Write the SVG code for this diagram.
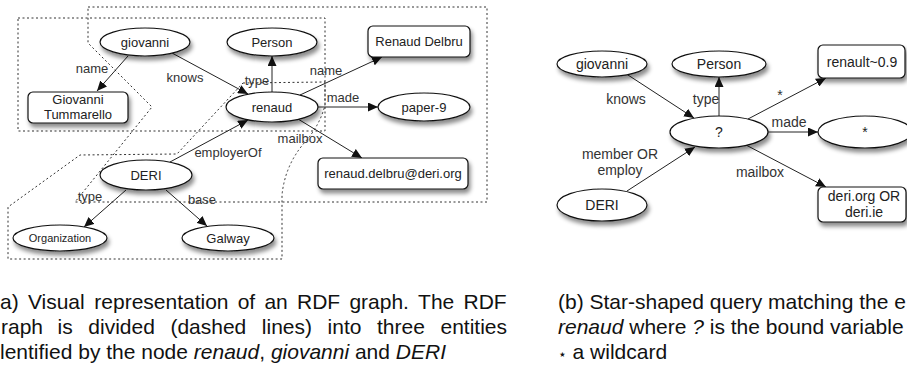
<svg xmlns="http://www.w3.org/2000/svg" width="907" height="369" viewBox="0 0 907 369">
<defs>
<style>
text{font-family:"Liberation Sans","DejaVu Sans",Arial,sans-serif;fill:#222}
.node{fill:#fff;stroke:#111;stroke-width:1.2;filter:url(#sh)}
.nl{font-size:13px;text-anchor:middle}
.nr{font-size:14px;text-anchor:middle}
.el{font-size:13px;text-anchor:middle;fill:#333}
.er{font-size:14px;text-anchor:middle;fill:#333}
.edge{stroke:#222;stroke-width:1;fill:none;marker-end:url(#ah)}
.reg{fill:none;stroke:#333;stroke-width:1;stroke-dasharray:2 2.5}
.cap{font-size:21px;fill:#111}
.it{font-style:italic}
</style>
<filter id="sh" x="-20%" y="-30%" width="150%" height="180%">
<feDropShadow dx="2" dy="4" stdDeviation="2.2" flood-color="#000" flood-opacity="0.45"/>
</filter>
<marker id="ah" markerUnits="userSpaceOnUse" markerWidth="11" markerHeight="9" refX="10" refY="4.5" orient="auto">
<path d="M0,0 L10,4.5 L0,9 Z" fill="#111"/>
</marker>
</defs>

<g id="regions">
<rect class="reg" x="18" y="18" width="307" height="113"/>
<path class="reg" d="M88,7 L487,7 L487,202 L75,202 L152,107 L88,43 Z"/>
<path class="reg" d="M243,83 L325,82 L325,105 Q320,125 305,142 Q285,165 282,195 L282,259 L8,259 L8,207 L80,155 L177,154 Z"/>
</g>

<g id="connectors">
<line class="edge" x1="128" y1="56" x2="97" y2="91"/>
<line class="edge" x1="172" y1="53" x2="248" y2="94"/>
<line class="edge" x1="272" y1="92" x2="272" y2="56"/>
<line class="edge" x1="300" y1="95" x2="382" y2="57"/>
<line class="edge" x1="318" y1="107" x2="378" y2="107"/>
<line class="edge" x1="298" y1="119" x2="362" y2="158"/>
<line class="edge" x1="170" y1="162" x2="248" y2="120"/>
<line class="edge" x1="126" y1="190" x2="84" y2="227"/>
<line class="edge" x1="166" y1="190" x2="207" y2="226"/>

<line class="edge" x1="628" y1="75" x2="694" y2="118"/>
<line class="edge" x1="719" y1="116" x2="719" y2="77"/>
<line class="edge" x1="748" y1="119" x2="826" y2="78"/>
<line class="edge" x1="768" y1="132" x2="818" y2="132"/>
<line class="edge" x1="746" y1="145" x2="826" y2="187"/>
<line class="edge" x1="627" y1="191" x2="695" y2="147"/>
</g>

<g id="edge-labels">
<text class="el" x="92" y="73">name</text>
<text class="el" x="185" y="82">knows</text>
<text class="el" x="257" y="85">type</text>
<text class="el" x="326" y="75">name</text>
<text class="el" x="343" y="102">made</text>
<text class="el" x="300" y="143">mailbox</text>
<text class="el" x="228" y="157">employerOf</text>
<text class="el" x="90" y="201">type</text>
<text class="el" x="202" y="204">base</text>

<text class="er" x="626" y="104">knows</text>
<text class="er" x="706" y="104">type</text>
<text class="er" x="780" y="100">*</text>
<text class="er" x="789" y="127">made</text>
<text class="er" x="760" y="177">mailbox</text>
<text class="er" x="620" y="159">member OR</text>
<text class="er" x="620" y="175">employ</text>
</g>

<g id="a-giovanni"><ellipse class="node" cx="145" cy="42" rx="45" ry="14"/><text class="nl" x="145" y="47">giovanni</text></g>
<g id="a-person"><ellipse class="node" cx="272" cy="42" rx="45" ry="14"/><text class="nl" x="272" y="47">Person</text></g>
<g id="a-renaud-delbru"><rect class="node" x="368" y="26" width="102" height="31" rx="5"/><text class="nl" x="419" y="46">Renaud Delbru</text></g>
<g id="a-renaud"><ellipse class="node" cx="272" cy="107" rx="46" ry="15"/><text class="nl" x="272" y="112">renaud</text></g>
<g id="a-paper9"><ellipse class="node" cx="424" cy="107" rx="46" ry="14"/><text class="nl" x="424" y="112">paper-9</text></g>
<g id="a-tummarello"><rect class="node" x="28" y="92" width="100" height="31" rx="5"/><text class="nl" x="78" y="104">Giovanni</text><text class="nl" x="78" y="119">Tummarello</text></g>
<g id="a-email"><rect class="node" x="318" y="158" width="150" height="31" rx="5"/><text class="nl" x="393" y="178">renaud.delbru@deri.org</text></g>
<g id="a-deri"><ellipse class="node" cx="146" cy="175" rx="46" ry="15"/><text class="nl" x="146" y="180">DERI</text></g>
<g id="a-organization"><ellipse class="node" cx="60" cy="238" rx="47" ry="13"/><text class="nl" style="font-size:11px" x="60" y="242">Organization</text></g>
<g id="a-galway"><ellipse class="node" cx="228" cy="238" rx="46" ry="13"/><text class="nl" x="228" y="243">Galway</text></g>

<g id="b-giovanni"><ellipse class="node" cx="602" cy="64" rx="45" ry="13"/><text class="nr" x="602" y="69">giovanni</text></g>
<g id="b-person"><ellipse class="node" cx="719" cy="64" rx="47" ry="13"/><text class="nr" x="719" y="69">Person</text></g>
<g id="b-renault"><rect class="node" x="818" y="45" width="87" height="33" rx="5"/><text class="nr" x="862" y="67">renault~0.9</text></g>
<g id="b-var"><ellipse class="node" cx="719" cy="132" rx="49" ry="16"/><text class="nr" x="719" y="137">?</text></g>
<g id="b-star"><ellipse class="node" cx="865" cy="132" rx="47" ry="16"/><text class="nr" x="865" y="137">*</text></g>
<g id="b-deriorg"><rect class="node" x="818" y="187" width="88" height="35" rx="5"/><text class="nr" x="864" y="201">deri.org OR</text><text class="nr" x="864" y="217">deri.ie</text></g>
<g id="b-deri"><ellipse class="node" cx="602" cy="205" rx="45" ry="16"/><text class="nr" x="602" y="210">DERI</text></g>

<g id="captions">
<text class="cap" y="309"><tspan x="0">a)</tspan><tspan x="27.9">Visual</tspan><tspan x="94.3">representation</tspan><tspan x="237.7">of</tspan><tspan x="264.4">an</tspan><tspan x="297">RDF</tspan><tspan x="349.4">graph.</tspan><tspan x="418.1">The</tspan><tspan x="463.5">RDF</tspan></text>
<text class="cap" y="334"><tspan x="1">raph</tspan><tspan x="57.6">is</tspan><tspan x="88.3">divided</tspan><tspan x="170.4">(dashed</tspan><tspan x="261.8">lines)</tspan><tspan x="327.6">into</tspan><tspan x="377">three</tspan><tspan x="440.5">entities</tspan></text>
<text class="cap" x="0" y="359">lentified by the node <tspan class="it">renaud</tspan>, <tspan class="it">giovanni</tspan> and <tspan class="it">DERI</tspan></text>
<text class="cap" x="558" y="309">(b) Star-shaped query matching the e</text>
<text class="cap" x="558" y="334"><tspan class="it">renaud</tspan> where <tspan class="it">?</tspan> is the bound variable</text>
<text class="cap" x="558" y="359"><tspan style="font-size:14px">⋆</tspan> a wildcard</text>
</g>
</svg>
